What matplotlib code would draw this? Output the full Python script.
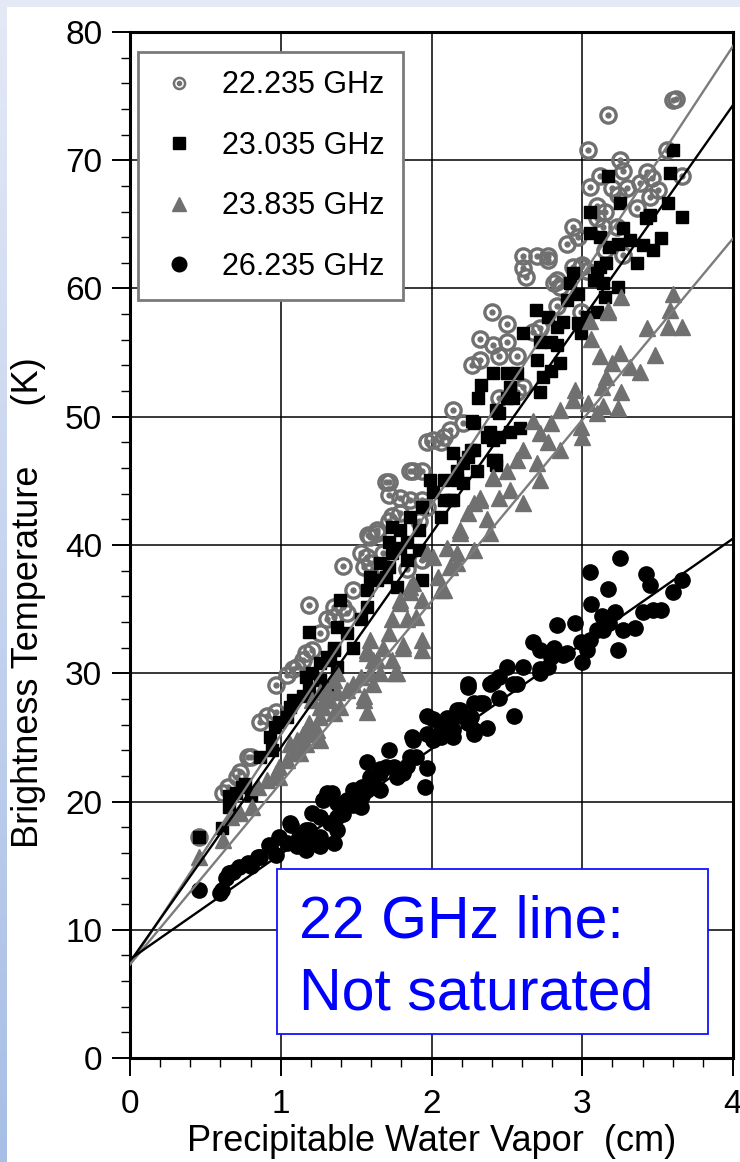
import matplotlib
matplotlib.use("Agg")
import matplotlib.pyplot as plt
import numpy as np
from matplotlib.lines import Line2D
from matplotlib.patches import Rectangle
from matplotlib.ticker import MultipleLocator

plt.rcParams['font.family'] = ['Liberation Sans', 'DejaVu Sans']

# 22.235 GHz
pwv_22 = [0.46, 0.62, 0.65, 0.71, 0.73, 0.78, 0.80, 0.86, 0.91, 0.97, 0.97, 1.04, 1.08, 1.11,
          1.15, 1.17, 1.21, 1.19, 1.26, 1.31, 1.35, 1.41, 1.35, 1.44, 1.48, 1.41, 1.55, 1.57,
          1.53, 1.59, 1.58, 1.64, 1.68, 1.72, 1.74, 1.79, 1.72, 1.72, 1.79, 1.86, 1.88, 1.94,
          1.97, 2.01, 2.08, 1.84, 1.94, 1.97, 1.92, 2.06, 2.12, 2.14, 2.21, 2.27, 2.32, 2.32,
          2.41, 2.45, 2.50, 2.57, 2.40, 2.50, 2.45, 2.57, 2.61, 2.67, 2.72, 2.83, 2.99, 2.61,
          2.61, 2.70, 2.77, 2.63, 2.81, 2.85, 2.99, 3.03, 2.83, 2.94, 3.00, 2.77, 2.90, 2.94,
          2.97, 3.05, 3.04, 3.10, 3.15, 3.10, 3.14, 3.23, 3.15, 3.27, 3.12, 3.20, 3.24, 3.25,
          3.27, 3.30, 3.36, 3.38, 3.43, 3.45, 3.46, 3.50, 3.56, 3.66, 3.17, 3.60, 3.62,
          1.86, 1.70, 1.94, 1.64, 1.59, 1.68]
tb_22 = [17.2, 20.7, 21.1, 21.9, 22.3, 23.5, 23.5, 26.2, 26.7, 27.0, 29.1, 29.9, 30.3, 30.5,
         31.0, 31.6, 31.8, 35.3, 33.1, 34.2, 34.4, 35.2, 35.2, 34.7, 36.5, 38.4, 38.3, 39.1,
         39.4, 40.6, 40.8, 41.2, 39.4, 41.9, 42.3, 42.5, 43.9, 44.9, 43.7, 43.5, 45.8, 45.8,
         48.0, 48.2, 48.4, 38.1, 38.8, 43.0, 41.9, 48.0, 49.0, 50.5, 49.5, 54.0, 54.4, 56.1,
         55.6, 54.7, 55.8, 54.7, 58.2, 57.2, 51.5, 51.9, 52.3, 56.6, 56.9, 58.6, 58.2, 62.5,
         61.6, 62.5, 62.5, 60.9, 60.4, 60.1, 61.7, 61.4, 60.7, 61.7, 61.8, 62.2, 63.5, 64.8,
         64.0, 67.9, 70.8, 66.4, 66.0, 65.5, 64.8, 64.8, 63.0, 62.6, 68.8, 67.8, 67.3, 70.0,
         69.2, 67.8, 66.3, 68.2, 69.1, 67.1, 68.6, 67.7, 70.8, 68.8, 73.5, 74.7, 74.8,
         45.8, 44.9, 43.5, 40.9, 38.6, 38.3]

# 23.035 GHz
pwv_23 = [0.46, 0.61, 0.66, 0.66, 0.70, 0.74, 0.76, 0.80, 0.86, 0.93, 0.94, 0.96, 0.99, 1.04,
          1.06, 1.08, 1.15, 1.19, 1.17, 1.21, 1.26, 1.31, 1.26, 1.31, 1.37, 1.33, 1.35, 1.35,
          1.19, 1.37, 1.44, 1.48, 1.39, 1.53, 1.57, 1.57, 1.59, 1.64, 1.70, 1.77, 1.66, 1.72,
          1.74, 1.84, 1.72, 1.79, 1.84, 1.92, 1.94, 1.74, 1.79, 1.86, 1.92, 1.94, 2.06, 2.01,
          1.99, 2.08, 2.12, 2.08, 2.14, 2.17, 2.17, 2.14, 2.24, 2.30, 2.26, 2.21, 2.21, 2.28,
          2.43, 2.41, 2.43, 2.37, 2.41, 2.28, 2.27, 2.39, 2.45, 2.52, 2.59, 2.43, 2.45, 2.31,
          2.50, 2.54, 2.33, 2.52, 2.41, 2.50, 2.57, 2.61, 2.70, 2.72, 2.74, 2.79, 2.85, 2.72,
          2.79, 2.83, 2.69, 2.77, 2.83, 2.87, 2.97, 2.99, 3.03, 3.10, 3.15, 2.90, 2.97, 2.92,
          2.94, 3.10, 3.12, 3.16, 3.14, 3.08, 3.24, 3.36, 3.18, 3.24, 3.32, 3.40, 3.47, 3.52,
          3.27, 3.05, 3.12, 3.05, 3.42, 3.45, 3.25, 3.57, 3.66, 3.17, 3.58, 3.60]
tb_23 = [17.2, 17.9, 19.6, 20.4, 20.7, 21.1, 21.4, 20.5, 23.5, 25.0, 24.0, 25.8, 26.2, 26.6,
         27.4, 27.9, 28.2, 28.7, 29.7, 30.0, 29.5, 28.9, 30.8, 31.3, 30.5, 31.0, 31.8, 32.0,
         33.2, 33.6, 33.1, 32.0, 35.7, 34.2, 35.2, 36.5, 37.5, 37.3, 37.5, 36.7, 38.6, 38.3,
         39.4, 38.8, 40.2, 39.8, 40.2, 39.6, 37.3, 41.4, 41.2, 42.2, 41.2, 43.0, 42.2, 44.1,
         45.1, 45.1, 43.5, 43.5, 43.5, 45.8, 45.1, 47.2, 46.9, 45.8, 47.4, 44.8, 46.4, 47.4,
         46.6, 46.6, 46.2, 48.4, 48.2, 49.5, 49.7, 48.8, 48.4, 48.8, 49.1, 50.5, 50.3, 51.5,
         51.5, 51.5, 52.5, 52.3, 53.4, 53.4, 53.4, 56.5, 54.4, 51.9, 53.1, 53.6, 54.2, 55.8,
         55.8, 55.6, 58.3, 57.8, 57.0, 57.4, 57.3, 56.5, 57.8, 58.2, 59.3, 59.1, 59.6, 60.4,
         61.2, 61.2, 61.7, 62.0, 60.4, 60.7, 60.1, 62.0, 63.2, 63.5, 63.8, 63.4, 63.0, 63.9,
         64.7, 64.3, 64.0, 66.0, 65.5, 65.7, 66.7, 66.7, 65.6, 68.8, 69.0, 70.8]

# 23.835 GHz
pwv_238 = [0.46, 0.62, 0.67, 0.73, 0.81, 0.85, 0.91, 0.97, 0.99, 0.99, 1.04, 1.08, 1.13, 1.06,
           1.11, 1.17, 1.15, 1.19, 1.26, 1.19, 1.24, 1.26, 1.28, 1.26, 1.35, 1.33, 1.21, 1.37,
           1.26, 1.39, 1.31, 1.44, 1.35, 1.48, 1.53, 1.55, 1.55, 1.57, 1.59, 1.61, 1.37, 1.57,
           1.57, 1.61, 1.59, 1.64, 1.66, 1.68, 1.72, 1.74, 1.76, 1.77, 1.74, 1.81, 1.81, 1.84,
           1.94, 1.94, 1.90, 1.79, 1.79, 1.86, 1.86, 1.88, 1.94, 2.08, 2.06, 2.04, 2.12, 2.01,
           1.97, 2.17, 2.17, 2.28, 2.10, 2.19, 2.39, 2.19, 2.37, 2.24, 2.28, 2.32, 2.32, 2.45,
           2.52, 2.61, 2.41, 2.41, 2.72, 2.50, 2.57, 2.70, 2.61, 2.85, 2.77, 2.72, 2.67, 2.79,
           2.99, 3.00, 2.85, 2.94, 2.95, 3.04, 3.10, 3.14, 3.24, 3.13, 3.26, 3.16, 3.20, 3.12,
           3.25, 3.32, 3.38, 3.48, 3.06, 3.05, 3.17, 3.17, 3.26, 3.43, 3.57, 3.66, 3.58, 3.60]
tb_238 = [15.7, 17.0, 18.8, 19.1, 19.6, 21.1, 21.7, 22.2, 21.9, 22.7, 23.2, 23.8, 23.8, 24.5,
          24.8, 24.5, 25.3, 25.3, 24.8, 26.1, 25.6, 26.6, 27.4, 27.4, 26.9, 27.9, 27.9, 28.5,
          28.5, 27.4, 28.7, 28.7, 29.5, 29.2, 29.7, 28.2, 27.9, 27.0, 30.0, 29.2, 30.0, 31.6,
          31.8, 31.0, 32.6, 31.0, 30.0, 32.0, 33.1, 31.0, 30.0, 30.0, 34.2, 32.0, 32.2, 34.2,
          32.6, 31.8, 34.4, 35.5, 35.7, 36.3, 36.7, 37.0, 35.7, 36.5, 36.5, 37.5, 38.3, 39.1,
          39.4, 39.4, 38.6, 39.6, 39.8, 40.9, 40.9, 41.2, 42.0, 42.5, 43.3, 43.5, 43.7, 43.7,
          44.3, 43.3, 45.2, 45.3, 45.1, 45.8, 46.6, 46.4, 47.4, 47.4, 48.0, 48.7, 49.7, 49.5,
          49.2, 48.4, 50.5, 51.3, 52.1, 51.1, 50.3, 50.8, 50.7, 52.3, 51.9, 53.1, 54.2, 54.7,
          55.0, 53.9, 53.5, 54.8, 56.1, 57.5, 58.2, 58.3, 59.3, 56.9, 57.0, 57.0, 58.3, 59.6]

# 26.235 GHz
pwv_26 = [0.46, 0.60, 0.66, 0.72, 0.80, 0.86, 0.93, 0.97, 1.04, 1.07, 1.12, 1.17, 1.17, 1.21,
          1.21, 1.26, 1.26, 1.31, 1.33, 1.35, 1.37, 1.37, 1.41, 1.46, 1.48, 1.53, 1.54, 1.57,
          1.57, 1.61, 1.66, 1.66, 1.70, 1.72, 1.77, 1.81, 1.84, 1.87, 1.90, 1.96, 1.97, 1.97,
          2.01, 2.06, 2.10, 2.10, 2.14, 2.17, 2.17, 2.24, 2.28, 2.28, 2.24, 2.32, 2.37, 2.41,
          2.45, 2.50, 2.54, 2.55, 2.61, 2.67, 2.72, 2.72, 2.77, 2.81, 2.83, 2.87, 2.95, 3.00,
          3.05, 3.10, 3.13, 3.22, 3.24, 3.27, 3.35, 3.40, 3.47, 3.52, 3.06, 3.17, 3.05, 3.25,
          3.42, 3.45, 3.60, 3.66,
          0.61, 0.64, 0.68, 0.78, 0.85, 0.92, 0.99, 1.06, 1.11, 1.19, 1.26, 1.28, 1.34, 1.37,
          1.44, 1.48, 1.54, 1.59, 1.66, 1.75, 1.86, 1.88, 1.97, 2.01, 2.10, 2.19, 2.26, 2.28,
          2.06, 2.14, 2.24, 2.34, 2.39, 2.45, 2.57, 2.72, 2.79, 2.90, 2.99, 3.03, 3.14, 3.18]
tb_26 = [13.1, 12.9, 14.4, 14.9, 15.0, 15.7, 16.5, 15.8, 16.8, 18.2, 17.2, 16.2, 17.8, 17.2,
         19.1, 16.5, 17.2, 20.7, 18.3, 16.8, 18.8, 19.9, 19.0, 20.1, 19.7, 19.6, 21.1, 20.9,
         23.1, 21.7, 20.9, 22.5, 22.7, 24.0, 21.9, 22.2, 22.8, 25.0, 23.5, 21.1, 22.6, 26.7,
         24.8, 25.6, 26.4, 26.5, 25.0, 26.7, 27.1, 26.1, 25.6, 27.7, 29.2, 27.7, 25.7, 29.3,
         28.1, 30.5, 29.2, 26.7, 30.5, 32.4, 31.8, 30.0, 30.5, 32.0, 33.8, 31.4, 33.9, 30.9,
         32.6, 33.4, 34.5, 34.8, 31.8, 33.4, 33.5, 34.8, 34.9, 34.9, 35.4, 36.6, 37.9, 39.0,
         37.7, 36.9, 36.3, 37.3,
         13.1, 14.0, 14.5, 15.2, 15.7, 16.6, 17.2, 18.3, 16.5, 17.8, 18.8, 20.1, 20.7, 17.8,
         20.1, 20.9, 20.4, 21.9, 22.2, 22.7, 23.5, 24.8, 25.3, 26.4, 25.8, 27.1, 26.6, 25.3,
         25.0, 25.6, 28.9, 27.7, 29.2, 29.7, 29.2, 30.3, 31.3, 31.6, 32.4, 31.8, 33.4, 33.9]

labels = ["22.235 GHz", "23.035 GHz", "23.835 GHz", "26.235 GHz"]
# fitted lines: (intercept K, slope K/cm)
fit_22 = (7.3, 17.9)
fit_23 = (7.5, 16.7)
fit_238 = (7.3, 14.15)
fit_26 = (7.7, 8.2)

gray = '#707070'

fig = plt.figure(figsize=(7.4, 11.62), dpi=100)

# slide background strips
grad = np.linspace(0, 1, 256).reshape(-1, 1)
bg = fig.add_axes([0, 0, 7 / 740, 1])
bg.imshow(grad, aspect='auto', cmap=matplotlib.colors.LinearSegmentedColormap.from_list(
    'bg', ['#e4e9f6', '#a7bee6']), extent=[0, 1, 0, 1])
bg.axis('off')
fig.patches.append(Rectangle((0, 1 - 7 / 1162), 1, 7 / 1162, transform=fig.transFigure,
                             facecolor='#e4e9f6', edgecolor='none'))

ax = fig.add_axes([130 / 740, 104 / 1162, 603 / 740, 1026 / 1162])

ax.plot(pwv_22, tb_22, ls='none', marker='o', ms=11, mfc='none', mec=gray, mew=2.4, zorder=2)
ax.plot(pwv_22, tb_22, ls='none', marker='o', ms=3.5, color=gray, zorder=2)
ax.plot(pwv_23, tb_23, ls='none', marker='s', ms=9, color='black', zorder=2)
ax.plot(pwv_238, tb_238, ls='none', marker='^', ms=11, color=gray, zorder=2)
ax.plot(pwv_26, tb_26, ls='none', marker='o', ms=11, color='black', zorder=2)

ax.axline((0, fit_22[0]), slope=fit_22[1], color='#7c7c7c', lw=1.7, zorder=3)
ax.axline((0, fit_23[0]), slope=fit_23[1], color='black', lw=1.7, zorder=3)
ax.axline((0, fit_238[0]), slope=fit_238[1], color='#7c7c7c', lw=1.7, zorder=3)
ax.axline((0, fit_26[0]), slope=fit_26[1], color='black', lw=1.7, zorder=3)

ax.set_xlim(0, 4)
ax.set_ylim(0, 80)
ax.xaxis.set_major_locator(MultipleLocator(1))
ax.xaxis.set_minor_locator(MultipleLocator(0.2))
ax.yaxis.set_major_locator(MultipleLocator(10))
ax.yaxis.set_minor_locator(MultipleLocator(2))
ax.tick_params(which='major', direction='out', length=13, width=1.4, labelsize=24, pad=7)
ax.tick_params(which='minor', direction='out', length=6.5, width=1.0)
ax.tick_params(axis='x', which='major', pad=9)
ax.grid(which='major', color='black', lw=1.1)
ax.set_axisbelow(True)
for sp in ax.spines.values():
    sp.set_linewidth(2.2)

ax.set_xlabel("Precipitable Water Vapor  (cm)", fontsize=26, labelpad=3)
ax.set_ylabel("Brightness Temperature      (K)", fontsize=26)
ax.yaxis.set_label_coords(-0.14, 0.444)

# legend
ring = Line2D([], [], ls='none', marker='o', ms=8, mfc='none', mec=gray, mew=1.8)
dot = Line2D([], [], ls='none', marker='o', ms=3, color=gray)
sq = Line2D([], [], ls='none', marker='s', ms=8.5, color='black')
tri = Line2D([], [], ls='none', marker='^', ms=9.5, color=gray)
circ = Line2D([], [], ls='none', marker='o', ms=10.5, color='black')
leg = ax.legend([(ring, dot), sq, tri, circ], labels, loc='upper left',
                bbox_to_anchor=(8 / 603, 1 - 20 / 1026), borderaxespad=0, fontsize=22,
                frameon=True, fancybox=False, framealpha=1, edgecolor='#7a7a7a',
                borderpad=0.6, handlelength=1.5, handletextpad=0.65, labelspacing=1.0)
leg.get_frame().set_linewidth(2.0)
leg.set_zorder(5)

# annotation box
ax.add_patch(Rectangle((147 / 603, 24 / 1026), 431 / 603, 165 / 1026, transform=ax.transAxes,
                       facecolor='white', edgecolor='#1010ff', lw=1.3, zorder=4))
ax.text(169 / 603, 120 / 1026, "22 GHz line:", transform=ax.transAxes, color='#0000ff',
        fontsize=42.5, va='baseline', ha='left', zorder=5)
ax.text(169 / 603, 49 / 1026, "Not saturated", transform=ax.transAxes, color='#0000ff',
        fontsize=42.5, va='baseline', ha='left', zorder=5)

fig.savefig('out.png', dpi=100)
